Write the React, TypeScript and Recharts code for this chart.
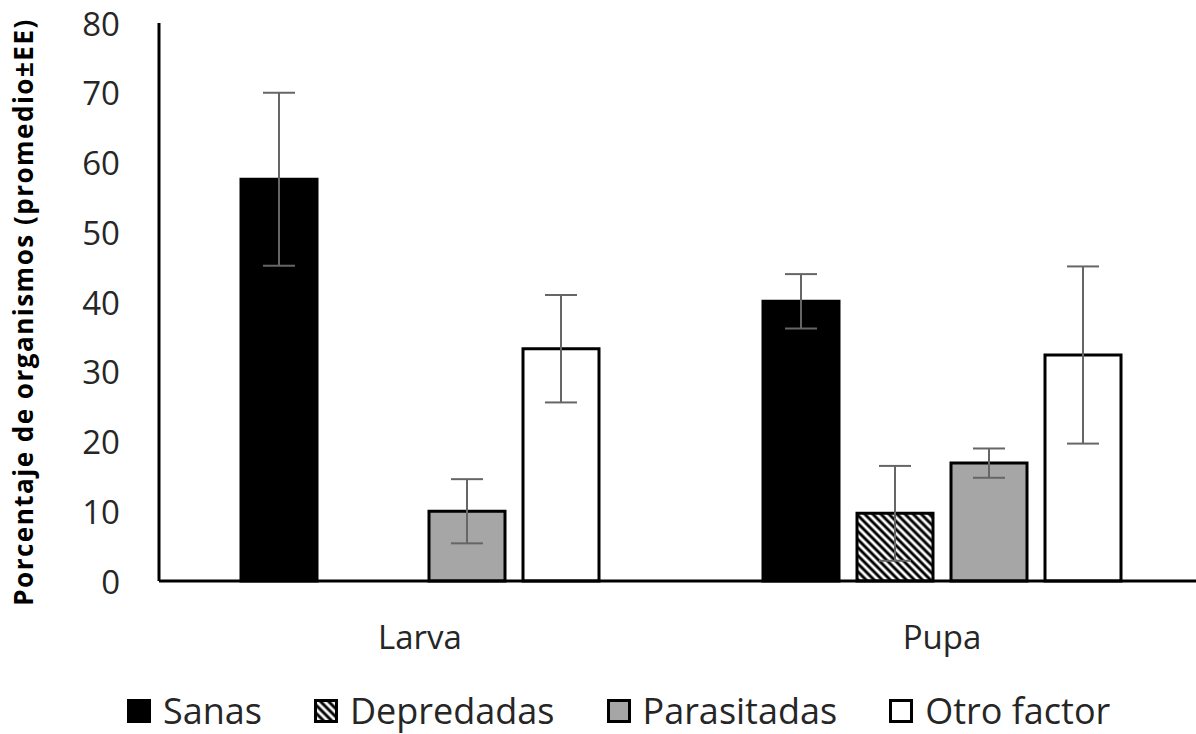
import React from 'react';
import { BarChart, Bar, XAxis, YAxis, ErrorBar, Legend } from 'recharts';

const categories = ['Larva', 'Pupa'];
const seriesNames = ['Sanas', 'Depredadas', 'Parasitadas', 'Otro factor'];
const sanas = [57.6, 40.1];
const sanasErr = [12.4, 3.9];
const depredadas = [0, 9.7];
const depredadasErr = [null, 6.8];
const parasitadas = [10.0, 16.9];
const parasitadasErr = [4.6, 2.1];
const otroFactor = [33.3, 32.4];
const otroFactorErr = [7.7, 12.7];
const yTicks = [0, 10, 20, 30, 40, 50, 60, 70, 80];
const yAxisTitle = 'Porcentaje de organismos (promedio±EE)';

const data = categories.map((c, i) => ({
  category: c,
  sanas: sanas[i],
  sanasErr: sanasErr[i],
  depredadas: depredadas[i],
  depredadasErr: depredadasErr[i],
  parasitadas: parasitadas[i],
  parasitadasErr: parasitadasErr[i],
  otro: otroFactor[i],
  otroErr: otroFactorErr[i],
}));

const FONT = '"Open Sans", sans-serif';
const TEXT = '#262626';
const ERR = '#666666';

const YTick = (props: any) => (
  <text
    x={props.x}
    y={props.y}
    textAnchor="end"
    dominantBaseline="central"
    fontFamily={FONT}
    fontSize={33}
    fill={TEXT}
  >
    {props.payload.value}
  </text>
);

const XTick = (props: any) => (
  <text
    x={props.x}
    y={props.y + 68}
    textAnchor="middle"
    fontFamily={FONT}
    fontSize={33}
    fill={TEXT}
  >
    {props.payload.value}
  </text>
);

const renderYTitle = () => (
  <text
    x={23}
    y={312}
    transform="rotate(-90 23 312)"
    textAnchor="middle"
    dominantBaseline="central"
    fontFamily={FONT}
    fontWeight={700}
    fontSize={26}
    letterSpacing={1.5}
    fill="#000"
  >
    {yAxisTitle}
  </text>
);

const renderLegend = (props: any) => {
  const payload = (props.payload || []).slice().sort(
    (a: any, b: any) => seriesNames.indexOf(a.value) - seriesNames.indexOf(b.value)
  );
  return (
    <div
      style={{
        height: 60,
        boxSizing: 'border-box',
        paddingTop: 14,
        paddingLeft: 127,
        display: 'flex',
        alignItems: 'center',
        width: 1190,
      }}
    >
      {payload.map((entry: any, i: number) => (
        <div
          key={i}
          style={{ display: 'flex', alignItems: 'center', marginRight: 52, flexShrink: 0 }}
        >
          <svg width={24} height={24} style={{ display: 'block', flexShrink: 0 }}>
            <rect
              x={1.5}
              y={1.5}
              width={21}
              height={21}
              fill={entry.color}
              stroke="#000"
              strokeWidth={3}
            />
          </svg>
          <span
            style={{
              display: 'block',
              fontFamily: FONT,
              fontSize: 36,
              lineHeight: '30px',
              color: TEXT,
              marginLeft: 12,
              whiteSpace: 'nowrap',
              flexShrink: 0,
            }}
          >
            {entry.value}
          </span>
        </div>
      ))}
    </div>
  );
};

export default function App() {
  return (
    <div
      style={{
        position: 'absolute',
        left: 0,
        top: 0,
        width: 1196,
        height: 734,
        overflow: 'hidden',
        background: '#fff',
      }}
    >
      <svg width={0} height={0} style={{ position: 'absolute' }}>
        <defs>
          <pattern
            id="hatch"
            patternUnits="userSpaceOnUse"
            width={5.7}
            height={5.7}
            patternTransform="rotate(-45)"
          >
            <rect width={5.7} height={5.7} fill="#fff" />
            <line x1={2.85} y1={0} x2={2.85} y2={5.7} stroke="#000" strokeWidth={2.9} />
          </pattern>
        </defs>
      </svg>
      <BarChart
        width={1210}
        height={734}
        data={data}
        margin={{ top: 23, right: 7, bottom: 0, left: 0 }}
        barCategoryGap={82}
        barGap={18}
      >
        <XAxis
          dataKey="category"
          height={93}
          axisLine={{ stroke: '#000', strokeWidth: 3 }}
          tickLine={false}
          tickSize={0}
          tickMargin={0}
          tick={<XTick />}
        />
        <YAxis
          width={159}
          domain={[0, 80]}
          ticks={yTicks}
          interval={0}
          axisLine={{ stroke: '#000', strokeWidth: 3 }}
          tickLine={false}
          tickSize={0}
          tickMargin={39}
          tick={<YTick />}
          label={{ content: renderYTitle }}
        />
        <Legend verticalAlign="bottom" content={renderLegend} />
        <Bar dataKey="sanas" name={seriesNames[0]} fill="#000" stroke="#000" strokeWidth={3} isAnimationActive={false}>
          <ErrorBar dataKey="sanasErr" width={16} strokeWidth={2} stroke={ERR} direction="y" isAnimationActive={false} />
        </Bar>
        <Bar dataKey="depredadas" name={seriesNames[1]} fill="url(#hatch)" stroke="#000" strokeWidth={3} isAnimationActive={false}>
          <ErrorBar dataKey="depredadasErr" width={16} strokeWidth={2} stroke={ERR} direction="y" isAnimationActive={false} />
        </Bar>
        <Bar dataKey="parasitadas" name={seriesNames[2]} fill="#a6a6a6" stroke="#000" strokeWidth={3} isAnimationActive={false}>
          <ErrorBar dataKey="parasitadasErr" width={16} strokeWidth={2} stroke={ERR} direction="y" isAnimationActive={false} />
        </Bar>
        <Bar dataKey="otro" name={seriesNames[3]} fill="#fff" stroke="#000" strokeWidth={3} isAnimationActive={false}>
          <ErrorBar dataKey="otroErr" width={16} strokeWidth={2} stroke={ERR} direction="y" isAnimationActive={false} />
        </Bar>
      </BarChart>
    </div>
  );
}
